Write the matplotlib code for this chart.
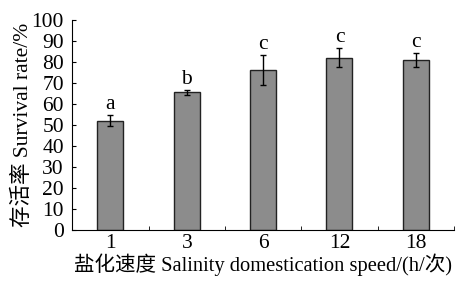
import numpy as np
import matplotlib.pyplot as plt

plt.rcParams['font.family'] = ['Liberation Serif', 'Noto Sans CJK SC']

speeds = ['1', '3', '6', '12', '18']
survival = [52, 65.5, 76, 82, 81]
errors = [2.7, 1.3, 7.2, 4.5, 3.3]
letters = ['a', 'b', 'c', 'c', 'c']

fs = 15.5

fig = plt.figure(figsize=(4.6, 2.84), dpi=100)
ax = fig.add_axes([0.157, 0.19, 0.83, 0.74])

x = np.arange(len(speeds))
ax.bar(x, survival, width=0.34, color='#8c8c8c', edgecolor='#222222', linewidth=1.0,
       yerr=errors, capsize=2.5, error_kw=dict(ecolor='black', elinewidth=1.0, capthick=1.0))

for xi, v, e, t in zip(x, survival, errors, letters):
    ax.text(xi, v + e + 0.5, t, ha='center', va='bottom', fontsize=fs)

ax.set_xlim(-0.5, len(speeds) - 0.5)
ax.set_ylim(0, 100)
ax.set_yticks(range(0, 101, 10))
ax.set_xticks(x)
ax.set_xticklabels(speeds)
ax.set_xticks(np.arange(0.5, len(speeds), 1), minor=True)
ax.tick_params(axis='x', which='major', length=0, labelsize=fs, pad=3)
ax.tick_params(axis='x', which='minor', direction='in', length=3)
ax.tick_params(axis='y', direction='in', length=3, labelsize=fs, pad=6)

ax.spines['top'].set_visible(False)
ax.spines['right'].set_visible(False)

ax.set_xlabel('盐化速度 Salinity domestication speed/(h/次)', fontsize=14.8, labelpad=0)
ax.set_ylabel('存活率 Survival rate/%', fontsize=fs, labelpad=-1)

fig.savefig('out.png', dpi=100)
